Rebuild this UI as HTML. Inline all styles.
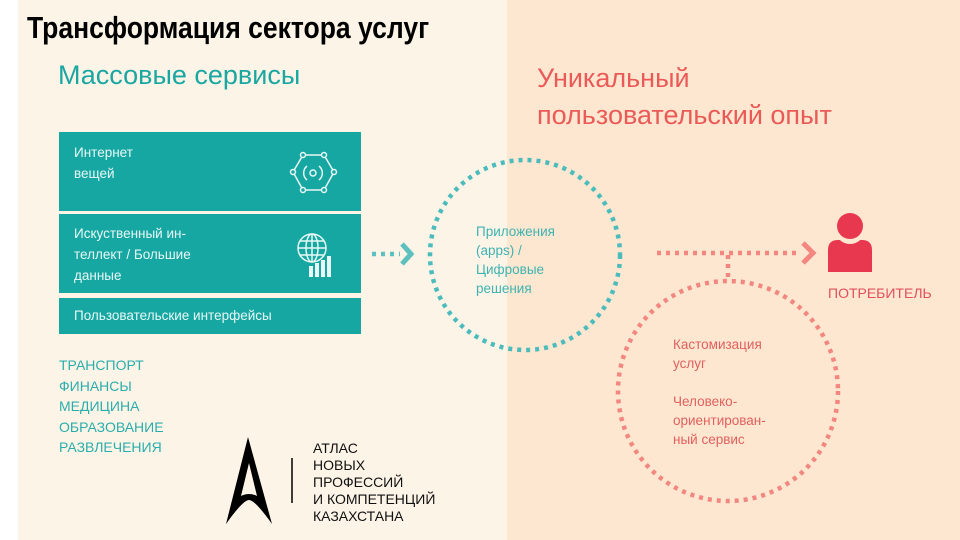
<!DOCTYPE html>
<html><head><meta charset="utf-8"><style>
body{margin:0;width:960px;height:540px;overflow:hidden;position:relative;font-family:"Liberation Sans",sans-serif;background:#fdf4e8}
.abs{position:absolute}
.box{position:absolute;left:59px;width:302px;background:#17a7a3;color:#e8f8f6;font-size:13.5px;line-height:21px}
.t{color:#1aa7a2}
</style></head><body>
<div class="abs" style="left:0;top:0;width:18px;height:540px;background:#fff"></div>
<div class="abs" style="left:507px;top:0;width:453px;height:540px;background:#fde7d1"></div>
<div class="abs" style="left:27px;top:10px;font-weight:bold;font-size:31px;color:#000;transform:scaleX(0.855);transform-origin:0 0;white-space:nowrap">Трансформация сектора услуг</div>
<div class="abs t" style="left:58px;top:60px;font-size:27px">Массовые сервисы</div>
<div class="abs" style="left:537px;top:60px;font-size:27px;line-height:37px;color:#ea5a57">Уникальный<br>пользовательский опыт</div>
<div class="box" style="top:132px;height:79px"><div style="padding:10px 0 0 15px">Интернет<br>вещей</div></div>
<div class="box" style="top:214px;height:79px"><div style="padding:9px 0 0 15px">Искуственный ин-<br>теллект / Большие<br>данные</div></div>
<div class="box" style="top:298px;height:36px"><div style="padding:7px 0 0 15px">Пользовательские интерфейсы</div></div>
<svg class="abs" style="left:0;top:0" width="960" height="540">
<g stroke="#e8f8f6" fill="none" stroke-width="1.5">
<polygon points="303,155 324,155 334,172 324,190 303,190 293,172"/>
<circle cx="303" cy="155" r="2.5" fill="#17a7a3"/><circle cx="324" cy="155" r="2.5" fill="#17a7a3"/><circle cx="334" cy="172" r="2.5" fill="#17a7a3"/><circle cx="324" cy="190" r="2.5" fill="#17a7a3"/><circle cx="303" cy="190" r="2.5" fill="#17a7a3"/><circle cx="293" cy="172" r="2.5" fill="#17a7a3"/>
<circle cx="313" cy="173" r="3"/><path d="M307 166 a9 9 0 0 0 0 14 M319 166 a9 9 0 0 1 0 14"/>
<circle cx="312" cy="248" r="14"/><ellipse cx="312" cy="248" rx="6" ry="14"/><line x1="298" y1="248" x2="326" y2="248"/><line x1="312" y1="234" x2="312" y2="262"/><path d="M300 241 h24 M300 255 h24"/>
</g>
<g fill="#e8f8f6"><rect x="309" y="266" width="4" height="11"/><rect x="315" y="263" width="4" height="14"/><rect x="321" y="260" width="4" height="17"/><rect x="327" y="256" width="4" height="21"/></g>
<g stroke-dasharray="4 5" stroke-width="4.5" fill="none">
<circle cx="525" cy="255" r="95" stroke="#4bbcbb"/>
<line x1="372" y1="254" x2="400" y2="254" stroke="#5cc0bf"/>
<circle cx="728" cy="391" r="110" stroke="#f3877f"/>
<line x1="657" y1="253" x2="800" y2="253" stroke="#f3877f"/>
<line x1="728" y1="255" x2="728" y2="282" stroke="#f3877f"/>
</g>
<path d="M402 244 l9 10 -9 10" stroke="#5cc0bf" stroke-width="5" fill="none"/>
<path d="M803 243 l10 10 -10 10" stroke="#f3877f" stroke-width="5" fill="none"/>
<path d="M828 272 v-22 q0 -10 10 -10 h24 q10 0 10 10 v22 z" fill="#e8384f"/>
<circle cx="850" cy="229" r="15" fill="#fde7d1"/>
<circle cx="850" cy="226" r="13" fill="#e8384f"/>
<path d="M226 524 L248 437 L272 524 Q255 500 249 500 Q243 500 226 524 Z M241 496 Q249 492 257 496 L249 463 Z" fill="#000" fill-rule="evenodd"/>
<line x1="292" y1="458" x2="292" y2="503" stroke="#000" stroke-width="1.5"/>
</svg>
<div class="abs" style="left:313px;top:440px;font-size:14px;line-height:17px;color:#111">АТЛАС<br>НОВЫХ<br>ПРОФЕССИЙ<br>И КОМПЕТЕНЦИЙ<br>КАЗАХСТАНА</div>
<div class="abs" style="left:476px;top:222px;font-size:13.5px;line-height:19px;color:#3fb3b0">Приложения<br>(apps) /<br>Цифровые<br>решения</div>
<div class="abs" style="left:673px;top:335px;font-size:13.5px;line-height:19px;color:#e0605e">Кастомизация<br>услуг<br><div style="height:19px"></div>Человеко-<br>ориентирован-<br>ный сервис</div>
<div class="abs" style="left:828px;top:285px;font-size:14px;color:#e0505a">ПОТРЕБИТЕЛЬ</div>
<div class="abs t" style="left:59px;top:355px;font-size:14px;line-height:20.5px;color:#2aaeab">ТРАНСПОРТ<br>ФИНАНСЫ<br>МЕДИЦИНА<br>ОБРАЗОВАНИЕ<br>РАЗВЛЕЧЕНИЯ</div>
</body></html>
